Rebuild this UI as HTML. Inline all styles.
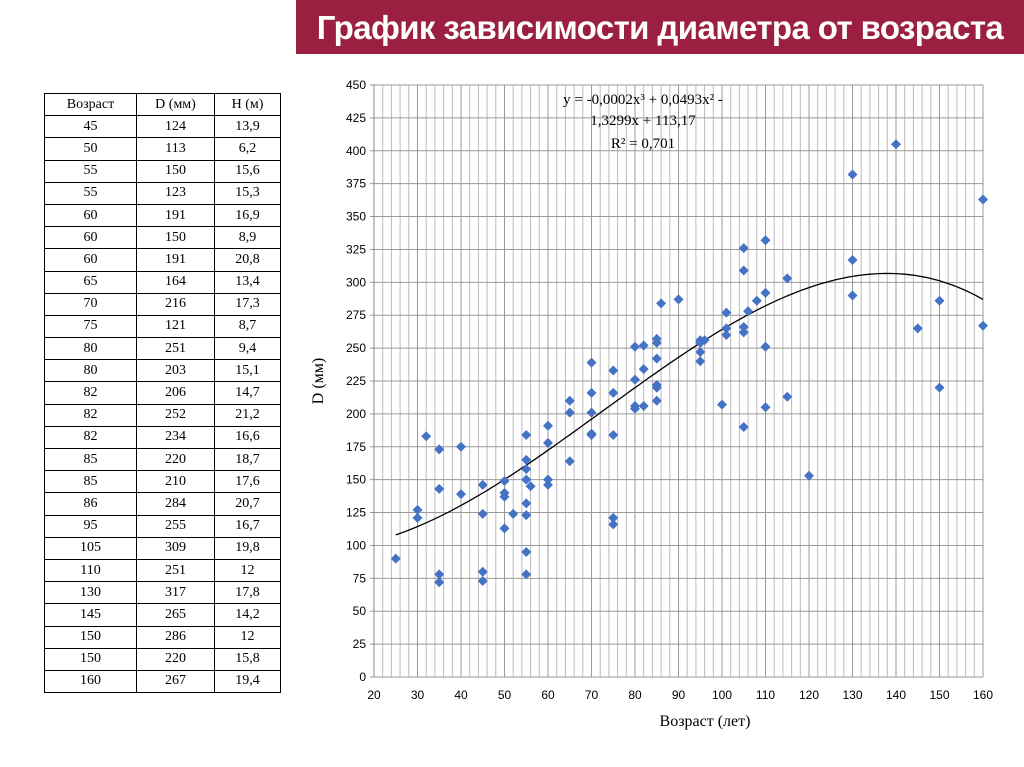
<!DOCTYPE html>
<html><head><meta charset="utf-8"><style>
body{margin:0;width:1024px;height:767px;background:#fff;position:relative;overflow:hidden;font-family:"Liberation Sans",sans-serif}
#banner{position:absolute;left:296px;top:0;width:728px;height:54px;background:#9b1f40;color:#fff;font-size:33px;font-weight:bold;line-height:56px;text-align:center;letter-spacing:-0.6px}
table{position:absolute;left:44px;top:93px;border-collapse:collapse;font-family:"Liberation Serif",serif;font-size:14px}
td{border:1px solid #000;height:21.2px;padding:0;text-align:center;line-height:20px}
svg{position:absolute;left:0;top:0}
</style></head><body>
<div id="banner">График зависимости диаметра от возраста</div>
<table>
<colgroup><col style="width:92px"><col style="width:78px"><col style="width:66px"></colgroup>
<tbody id="tb"><tr><td>Возраст</td><td>D (мм)</td><td>H (м)</td></tr></tbody></table>
<svg id="ch" width="1024" height="767"></svg>
<script>
const tAge=[45,50,55,55,60,60,60,65,70,75,80,80,82,82,82,85,85,86,95,105,110,130,145,150,150,160];
const tD=[124,113,150,123,191,150,191,164,216,121,251,203,206,252,234,220,210,284,255,309,251,317,265,286,220,267];
const tH=["13,9","6,2","15,6","15,3","16,9","8,9","20,8","13,4","17,3","8,7","9,4","15,1","14,7","21,2","16,6","18,7","17,6","20,7","16,7","19,8","12","17,8","14,2","12","15,8","19,4"];
const tb=document.getElementById('tb');
for(let i=0;i<tAge.length;i++){const tr=document.createElement('tr');


tr.innerHTML='<td>'+tAge[i]+'</td><td>'+tD[i]+'</td><td>'+tH[i]+'</td>';tb.appendChild(tr);}

const ages=[25,30,30,32,35,35,35,35,40,40,45,45,45,45,50,50,50,50,52,55,55,55,55,55,55,55,55,56,60,60,60,60,65,65,65,70,70,70,70,70,75,75,75,75,75,80,80,80,80,82,82,82,85,85,85,85,85,85,86,90,95,95,95,95,96,100,101,101,101,105,105,105,105,105,106,108,110,110,110,110,115,115,120,130,130,130,140,145,150,150,160,160];
const diam=[90,127,121,183,173,143,78,72,175,139,146,124,80,73,149,140,137,113,124,184,165,158,150,132,123,95,78,145,191,178,150,146,210,201,164,239,216,201,185,184,233,216,184,121,116,251,226,206,204,252,234,206,257,254,242,222,220,210,284,287,256,254,247,240,256,207,277,265,260,326,309,266,262,190,278,286,332,292,251,205,303,213,153,382,317,290,405,265,286,220,363,267];
const trendX=[25,70,120,160];
const trendY=[108,196,296,287];
const xTicks=[20,30,40,50,60,70,80,90,100,110,120,130,140,150,160];
const yTicks=[0,25,50,75,100,125,150,175,200,225,250,275,300,325,350,375,400,425,450];

const X0=374,X1=983,Y0=677,Y1=85;
const sx=v=>X0+(v-20)*(X1-X0)/140, sy=v=>Y0-v*(Y0-Y1)/450;
const svg=document.getElementById('ch');const NS='http://www.w3.org/2000/svg';
function mk(t,a,p){const e=document.createElementNS(NS,t);for(const k in a)e.setAttribute(k,a[k]);(p||svg).appendChild(e);return e;}
for(let v=20;v<=160;v+=2){const l=mk('line',{x1:sx(v),x2:sx(v),y1:Y1,y2:Y0,stroke:v%10==0?'#999':'#bbb','stroke-width':1});

}
yTicks.forEach(v=>{const l=mk('line',{x1:X0-4,x2:X1,y1:sy(v),y2:sy(v),stroke:'#999','stroke-width':1});


const t=mk('text',{x:X0-8,y:sy(v)+4,'text-anchor':'end','font-size':12,fill:'#000'});t.textContent=v;

});
xTicks.forEach(v=>{const t=mk('text',{x:sx(v),y:Y0+22,'text-anchor':'middle','font-size':12,fill:'#000'});t.textContent=v;

});
mk('line',{x1:X0,x2:X0,y1:Y1,y2:Y0,stroke:'#888'});
function trend(x){let s=0;for(let i=0;i<trendX.length;i++){let p=trendY[i];for(let j=0;j<trendX.length;j++)if(j!=i)p*=(x-trendX[j])/(trendX[i]-trendX[j]);s+=p;}return s;}
let d='';for(let x=25;x<=160;x+=1)d+=(x==25?'M':'L')+sx(x).toFixed(1)+','+sy(trend(x)).toFixed(1);
const tl=mk('path',{d:d,fill:'none',stroke:'#000','stroke-width':1.3});


ages.forEach((a,i)=>{const cx=sx(a),cy=sy(diam[i]);const p=mk('polygon',{points:`${cx},${cy-5} ${cx+5},${cy} ${cx},${cy+5} ${cx-5},${cy}`,fill:'#4472c4'});

});
const eq=[["y = -0,0002x³ + 0,0493x² -",104],["1,3299x + 113,17",125],["R² = 0,701",148]];
eq.forEach(e=>{const t=mk('text',{x:643,y:e[1],'text-anchor':'middle','font-size':15,'font-family':'Liberation Serif, serif'});t.textContent=e[0];

});
const xt=mk('text',{x:705,y:726,'text-anchor':'middle','font-size':16,'font-family':'Liberation Serif, serif'});xt.textContent='Возраст (лет)';


const yt=mk('text',{x:323,y:381,'text-anchor':'middle','font-size':16,'font-family':'Liberation Serif, serif',transform:'rotate(-90 323 381)'});yt.textContent='D (мм)';


</script>
</body></html>
